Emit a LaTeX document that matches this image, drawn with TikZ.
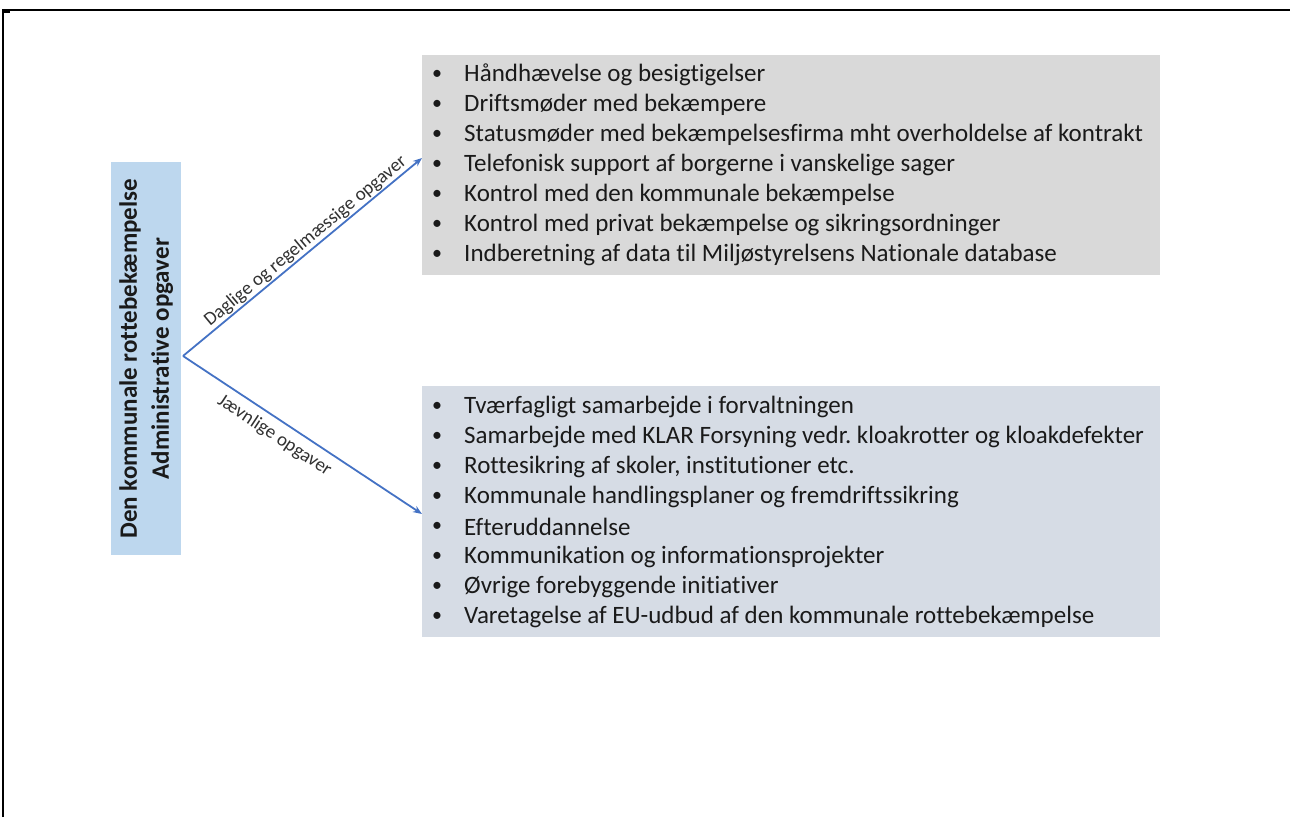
\documentclass[tikz,border=0pt]{standalone}
\usepackage{fontspec}
\setmainfont[Ligatures=NoCommon]{Carlito}
\usetikzlibrary{arrows.meta}
\definecolor{lblue}{HTML}{BDD7EE}
\definecolor{lgray}{HTML}{D9D9D9}
\definecolor{lslate}{HTML}{D6DCE5}
\definecolor{arrowblue}{HTML}{4472C4}
\definecolor{txt}{HTML}{1A1A1A}
\tikzset{
  itemtxt/.style={anchor=west, inner sep=0pt, font=\fontsize{25}{30}\selectfont, text=txt},
  bul/.style={inner sep=0pt, font=\fontsize{20}{24}\selectfont, text=txt},
  conn/.style={draw=arrowblue, line width=1.8pt, -{Stealth[length=9pt,width=7pt]}},
  lbl/.style={font=\fontsize{19}{22}\selectfont, text=txt!90, inner sep=2pt},
}
\frenchspacing
\begin{document}
\begin{tikzpicture}[x=1pt,y=-1pt]
\useasboundingbox (0,0) rectangle (1290,817);
% frame
\draw[line width=1.5pt] (3,817) -- (3,10) -- (1290,10);
\fill (3,9) rectangle (10,13);
% boxes
\node[fill=lblue, minimum width=70pt, minimum height=393pt, inner sep=0pt, anchor=north west] (lb) at (111,162) {};
\node[rotate=90, font=\bfseries\fontsize{25}{32}\selectfont, text=txt, align=center] (lbt) at (lb.center) {Den kommunale rottebekæmpelse\\Administrative opgaver};
\node[fill=lgray, minimum width=738pt, minimum height=220pt, inner sep=0pt, anchor=north west] (tb) at (422,55) {};
\node[fill=lslate, minimum width=738pt, minimum height=251pt, inner sep=0pt, anchor=north west] (bb) at (422,386) {};
% top items
\foreach \t [count=\i] in {Håndhævelse og besigtigelser,Driftsmøder med bekæmpere,Statusmøder med bekæmpelsesfirma mht overholdelse af kontrakt,Telefonisk support af borgerne i vanskelige sager,Kontrol med den kommunale bekæmpelse,Kontrol med privat bekæmpelse og sikringsordninger,Indberetning af data til Miljøstyrelsens Nationale database}{
  \node[bul] (tbul\i) at (437,{75+30*(\i-1)}) {•};
  \node[itemtxt] (ti\i) at (464,{75+30*(\i-1)}) {\t};
}
% bottom items
\foreach \t [count=\i] in {Tværfagligt samarbejde i forvaltningen,Samarbejde med KLAR Forsyning vedr. kloakrotter og kloakdefekter,{Rottesikring af skoler, institutioner etc.},Kommunale handlingsplaner og fremdriftssikring,Efteruddannelse,Kommunikation og informationsprojekter,Øvrige forebyggende initiativer,Varetagelse af EU-udbud af den kommunale rottebekæmpelse}{
  \node[bul] (bbul\i) at (437,{407+30*(\i-1)}) {•};
  \node[itemtxt] (bi\i) at (464,{407+30*(\i-1)}) {\t};
}
% connectors
\coordinate (src) at (183,356);
\coordinate (ta) at (422,158);
\coordinate (ba) at (422,514);
\draw[conn] (src) -- node[lbl, sloped, above, pos=0.54, inner sep=1pt] (l1) {Daglige og regelmæssige opgaver} (ta);
\draw[conn] (src) -- node[lbl, sloped, below, pos=0.42, yshift=-5pt] (l2) {Jævnlige opgaver} (ba);
\end{tikzpicture}
\end{document}
